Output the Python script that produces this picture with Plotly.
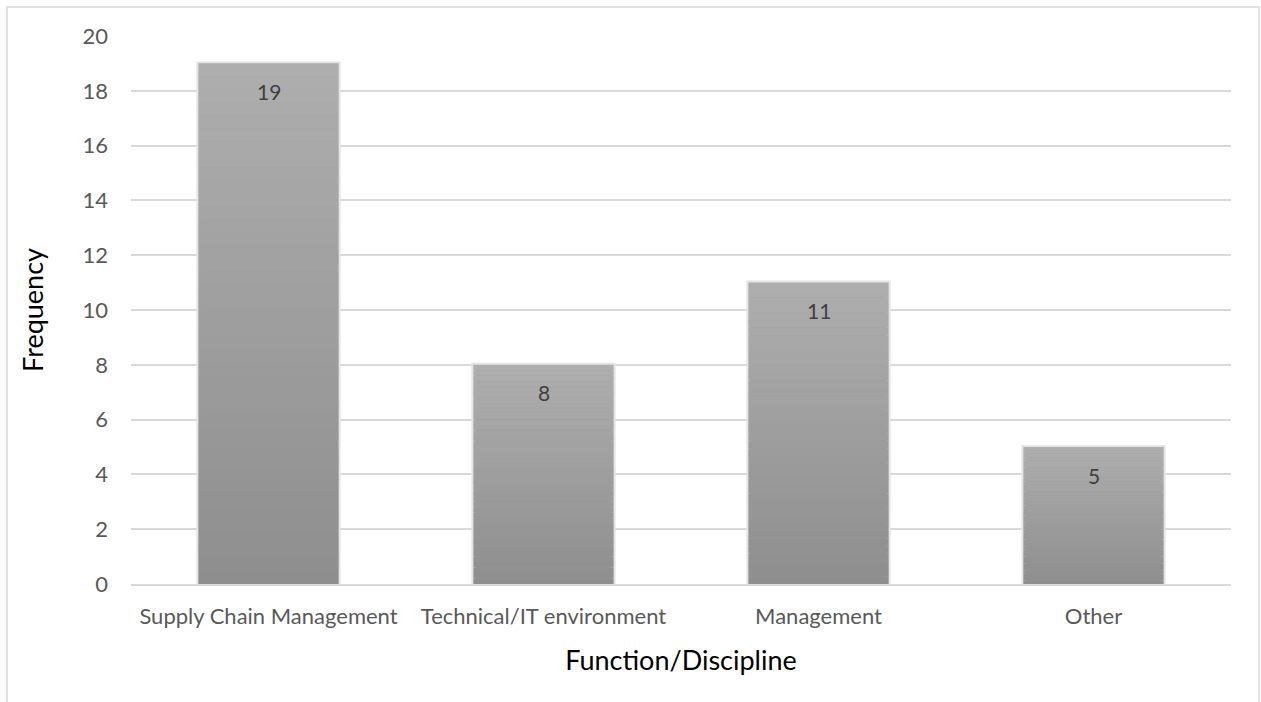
import plotly.graph_objects as go

categories = ["Supply Chain Management", "Technical/IT environment", "Management", "Other"]
frequency = [19, 8, 11, 5]
y_ticks = [0, 2, 4, 6, 8, 10, 12, 14, 16, 18, 20]

FONT = "Lato"
TOP_GREY = (174, 174, 174)
BOTTOM_GREY = (142, 142, 142)
N_STEPS = 40
BAR_WIDTH = 0.51

fig = go.Figure()

# soft light halo behind each bar
fig.add_trace(go.Bar(
    x=categories, y=frequency, width=BAR_WIDTH,
    marker=dict(color="rgb(150,150,150)", line=dict(color="#e4e4e4", width=4)),
    hoverinfo="skip", showlegend=False,
))

# vertical shading: each bar is built from thin slices, light at top, dark at bottom
for i in range(N_STEPS):
    t = (i + 0.5) / N_STEPS
    r, g, b = (round(BOTTOM_GREY[k] + (TOP_GREY[k] - BOTTOM_GREY[k]) * t) for k in range(3))
    fig.add_trace(go.Bar(
        x=categories,
        y=[v / N_STEPS * 1.02 for v in frequency],
        base=[v * i / N_STEPS for v in frequency],
        width=BAR_WIDTH,
        marker=dict(color=f"rgb({r},{g},{b})", line=dict(width=0)),
        hoverinfo="skip", showlegend=False,
    ))

# value labels just below the top of each bar
annotations = [
    dict(x=c, y=v, xref="x", yref="y", text=str(v), showarrow=False,
         yanchor="middle", yshift=-28,
         font=dict(family=FONT, size=21, color="#404040"))
    for c, v in zip(categories, frequency)
]

fig.update_layout(
    width=1261, height=702,
    barmode="overlay",
    paper_bgcolor="white", plot_bgcolor="white",
    margin=dict(l=131, r=30, t=36, b=118),
    font=dict(family=FONT, color="#595959"),
    xaxis=dict(
        showgrid=False, showline=True, linecolor="#d9d9d9", linewidth=2,
        ticks="", tickfont=dict(family=FONT, size=22, color="#595959"),
        ticklabelstandoff=12,
        title=dict(text="Function/Discipline", font=dict(family=FONT, size=27, color="black"), standoff=23),
    ),
    yaxis=dict(
        range=[0, 20], tickvals=y_ticks,
        showgrid=True, gridcolor="#d9d9d9", gridwidth=1.5,
        zeroline=False, showline=False, ticks="",
        tickfont=dict(family=FONT, size=22, color="#595959"),
        ticklabelstandoff=22,
        title=dict(text="Frequency", font=dict(family=FONT, size=27, color="black"), standoff=31),
    ),
    annotations=annotations,
    shapes=[dict(
        type="rect", xref="paper", yref="paper",
        x0=-0.1127, x1=1.0255, y0=-0.25, y1=1.0529,
        line=dict(color="#d9d9d9", width=1.5), fillcolor="rgba(0,0,0,0)", layer="below",
    )],
)

fig.write_html("out.html")
